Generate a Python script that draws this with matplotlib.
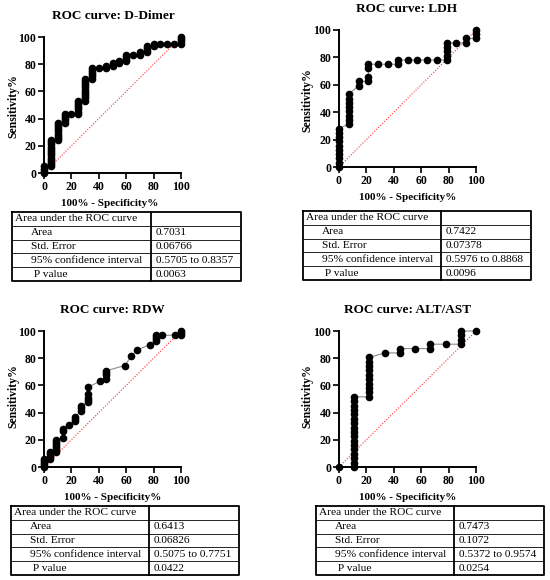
import matplotlib.pyplot as plt

# ROC points (x = 100% - specificity, y = sensitivity)
dd_fpr = [0, 0, 0, 0,
          5, 5, 5, 5, 5, 5, 5, 5, 5, 5, 5, 5, 5,
          10, 10, 10, 10, 10, 10, 10, 10, 10,
          15, 15, 15, 15, 15,
          20,
          25, 25, 25, 25, 25, 25, 25,
          30, 30, 30, 30, 30, 30, 30, 30, 30, 30, 30,
          35, 35, 35, 35, 35, 35,
          40, 45, 45, 50, 50, 55, 55,
          60, 60, 60, 60,
          65, 70, 70,
          75, 75, 75, 75,
          80, 80, 85, 90, 95,
          100, 100, 100, 100]
dd_tpr = [0, 1.6, 3.2, 4.8,
          4.8, 6.5, 8.1, 9.7, 11.3, 12.9, 14.5, 16.1, 17.7, 19.4, 21.0, 22.6, 24.2,
          24.2, 25.8, 27.4, 29.0, 30.6, 32.3, 33.9, 35.5, 37.1,
          37.1, 38.7, 40.3, 41.9, 43.5,
          43.5,
          43.5, 45.2, 46.8, 48.4, 50.0, 51.6, 53.2,
          53.2, 54.8, 56.5, 58.1, 59.7, 61.3, 62.9, 64.5, 66.1, 67.7, 69.4,
          69.4, 71.0, 72.6, 74.2, 75.8, 77.4,
          77.4, 77.4, 79.0, 79.0, 80.6, 80.6, 82.3,
          82.3, 83.9, 85.5, 87.1,
          87.1, 87.1, 88.7,
          88.7, 90.3, 91.9, 93.5,
          93.5, 95.2, 95.2, 95.2, 95.2,
          95.2, 96.8, 98.4, 100]

ldh_fpr = [0, 0, 0, 0, 0, 0, 0, 0, 0, 0,
           7.1, 7.1, 7.1, 7.1, 7.1, 7.1, 7.1, 7.1,
           14.3, 14.3,
           21.4, 21.4, 21.4, 21.4,
           28.6, 35.7, 42.9, 42.9,
           50, 57.1, 64.3, 71.4,
           78.6, 78.6, 78.6, 78.6, 78.6,
           85.7, 92.9, 92.9,
           100, 100, 100]
ldh_tpr = [0, 3.1, 6.3, 9.4, 12.5, 15.6, 18.8, 21.9, 25.0, 28.1,
           31.3, 34.4, 37.5, 40.6, 43.8, 46.9, 50.0, 53.1,
           59.4, 62.5,
           62.5, 65.6, 71.9, 75.0,
           75.0, 75.0, 75.0, 78.1,
           78.1, 78.1, 78.1, 78.1,
           78.1, 81.3, 84.4, 87.5, 90.6,
           90.6, 90.6, 93.8,
           93.8, 96.9, 100]

rdw_fpr = [0, 0, 0, 0, 0,
           4.5, 4.5, 4.5, 4.5,
           9.1, 9.1, 9.1, 9.1, 9.1, 9.1, 9.1,
           13.6, 13.6, 13.6,
           18.2,
           22.7, 22.7, 22.7,
           27.3, 27.3, 27.3,
           31.8, 31.8, 31.8, 31.8, 31.8,
           40.9,
           45.5, 45.5, 45.5, 45.5,
           59.1, 63.6, 68.2, 77.3,
           81.8, 81.8, 81.8, 81.8,
           86.4, 95.5,
           100, 100, 100]
rdw_tpr = [0, 1.5, 3.1, 4.6, 6.2,
           6.2, 7.7, 9.2, 10.8,
           10.8, 12.3, 13.8, 15.4, 16.9, 18.5, 20.0,
           21.5, 26.2, 27.7,
           30.8,
           33.8, 35.4, 36.9,
           41.5, 43.1, 44.6,
           47.7, 49.2, 50.8, 53.8, 58.5,
           63.1,
           64.6, 67.7, 69.2, 70.8,
           74.6, 81.5, 86.2, 90.0,
           92.3, 93.8, 95.4, 96.9,
           96.9, 96.9,
           96.9, 98.5, 100]

alt_fpr = [0,
           11.1, 11.1, 11.1, 11.1, 11.1, 11.1, 11.1, 11.1, 11.1,
           11.1, 11.1, 11.1, 11.1, 11.1, 11.1, 11.1, 11.1,
           22.2, 22.2, 22.2, 22.2, 22.2, 22.2, 22.2, 22.2, 22.2, 22.2,
           33.3, 44.4, 44.4, 55.6, 66.7, 66.7, 77.8,
           88.9, 88.9, 88.9, 88.9,
           100]
alt_tpr = [0,
           0, 3.2, 6.5, 9.7, 12.9, 16.1, 19.4, 22.6, 25.8,
           29.0, 32.3, 35.5, 38.7, 41.9, 45.2, 48.4, 51.6,
           51.6, 54.8, 58.1, 61.3, 64.5, 67.7, 71.0, 74.2, 77.4, 80.6,
           83.9, 83.9, 87.1, 87.1, 87.1, 90.3, 90.3,
           90.3, 93.5, 96.8, 100,
           100]

titles = ['ROC curve: D-Dimer', 'ROC curve: LDH', 'ROC curve: RDW', 'ROC curve: ALT/AST']
row_labels = ['Area under the ROC curve', 'Area', 'Std. Error',
              '95% confidence interval', ' P value']
dd_stats = ['', '0.7031', '0.06766', '0.5705 to 0.8357', '0.0063']
ldh_stats = ['', '0.7422', '0.07378', '0.5976 to 0.8868', '0.0096']
rdw_stats = ['', '0.6413', '0.06826', '0.5075 to 0.7751', '0.0422']
alt_stats = ['', '0.7473', '0.1072', '0.5372 to 0.9574', '0.0254']
ticks = [0, 20, 40, 60, 80, 100]

W, H = 550, 580
fig = plt.figure(figsize=(W / 100, H / 100), dpi=100)
serif = ['Liberation Serif', 'DejaVu Serif']


def px_axes(l, t, r, b):
    return fig.add_axes([l / W, 1 - b / H, (r - l) / W, (b - t) / H])


def roc_panel(box, fpr, tpr, title, title_xy, xlab_xy, ylab_xy):
    ax = px_axes(*box)
    ax.plot([0, 100], [0, 100], color='#ff3030', lw=0.8, ls=(0, (1, 1.5)), zorder=1)
    ax.plot(fpr, tpr, color='#8c8c8c', lw=0.8, zorder=2, clip_on=False)
    ax.plot(fpr, tpr, 'o', color='black', ms=4.5, zorder=3, clip_on=False)
    ax.set_xlim(0, 100)
    ax.set_ylim(0, 100)
    ax.set_xticks(ticks)
    ax.set_yticks(ticks)
    for s in ['top', 'right']:
        ax.spines[s].set_visible(False)
    for s in ['left', 'bottom']:
        ax.spines[s].set_linewidth(1.4)
    ax.tick_params(direction='out', length=4, width=1.2, pad=1.5)
    for lab in ax.get_xticklabels() + ax.get_yticklabels():
        lab.set_fontfamily(serif)
        lab.set_fontweight('bold')
        lab.set_fontsize(8.5)
    fig.text(title_xy[0] / W, 1 - title_xy[1] / H, title, ha='center', va='center',
             family=serif, weight='bold', fontsize=9.5)
    fig.text(xlab_xy[0] / W, 1 - xlab_xy[1] / H, '100% - Specificity%', ha='center',
             va='center', family=serif, weight='bold', fontsize=8)
    fig.text(ylab_xy[0] / W, 1 - ylab_xy[1] / H, 'Sensitivity%', ha='center',
             va='center', rotation=90, family=serif, weight='bold', fontsize=8.5)


def stats_table(box, divider, values):
    l, t, r, b = box
    ax = px_axes(l, t, r, b)
    ax.set_xlim(l, r)
    ax.set_ylim(b, t)
    ax.axis('off')
    n = len(row_labels)
    rh = (b - t) / n
    ax.plot([l, r, r, l, l], [t, t, b, b, t], color='black', lw=1.3, clip_on=False)
    ax.plot([divider, divider], [t, b], color='black', lw=1.3, clip_on=False)
    for i in range(1, n):
        ax.plot([l, r], [t + i * rh, t + i * rh], color='black', lw=0.6)
    for i, (lab, val) in enumerate(zip(row_labels, values)):
        y = t + (i + 0.5) * rh
        x = l + 3 if i == 0 else l + 19
        ax.text(x, y, lab, ha='left', va='center', family=serif, fontsize=8.2)
        ax.text(divider + 5, y, val, ha='left', va='center', family=serif, fontsize=8.2)


roc_panel((44, 37, 181, 173), dd_fpr, dd_tpr, titles[0], (113, 16), (110, 203), (13, 106))
roc_panel((339, 30, 476, 167), ldh_fpr, ldh_tpr, titles[1], (407, 9), (408, 197), (307, 100))
roc_panel((44, 331, 181, 467), rdw_fpr, rdw_tpr, titles[2], (112, 310), (113, 497), (13, 396))
roc_panel((339, 331, 476, 467), alt_fpr, alt_tpr, titles[3], (408, 310), (408, 497), (307, 396))

stats_table((12, 212, 241, 281), 151, dd_stats)
stats_table((303, 211, 531, 280), 441, ldh_stats)
stats_table((11, 506, 239, 575), 149, rdw_stats)
stats_table((316, 506, 544, 575), 454, alt_stats)

fig.savefig('out.png', dpi=100)
